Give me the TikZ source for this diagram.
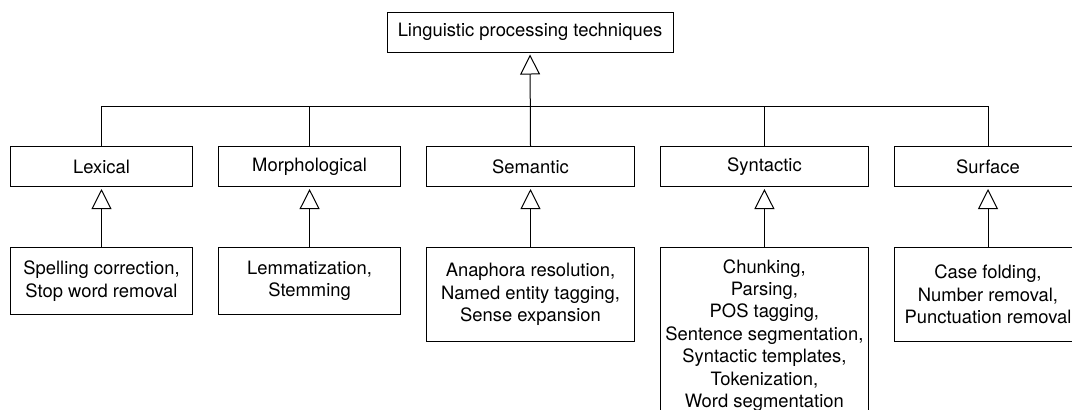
\documentclass[tikz,border=0pt]{standalone}
\usepackage{fontspec}
\setmainfont{TeX Gyre Heros}
\usetikzlibrary{
    arrows.meta,
    calc,
    positioning
}
\tikzset{tbox/.style={draw=black, inner sep=2pt, align=center, font=\fontsize{9.2}{11.2}\selectfont, minimum height=20pt},
         inh/.style={-{Triangle[open, length=10pt, width=10pt]}, shorten >=1pt}}

\begin{document}
\begin{tikzpicture}[x=0.5pt, y=-0.5pt, line width=0.5pt]
                        \useasboundingbox (0, 0) rectangle (1072, 409);
                        \node[tbox, minimum width=143pt] (root) at (530, 32) {Linguistic processing techniques};
                        % second row
                        \node[tbox, minimum width=91pt] (lex) at (101.5, 166.5) {Lexical};
                        \node[tbox, minimum width=91pt] (mor) at (309.6, 166.5) {Morphological};
                        \node[tbox, minimum width=104pt] (sem) at (530.5, 166.5) {Semantic};
                        \node[tbox, minimum width=104pt] (syn) at (764.4, 166.5) {Syntactic};
                        \node[tbox, minimum width=94pt] (sur) at (988, 166.5) {Surface};
                        % third row
                        \node[tbox, anchor=north, minimum width=91pt, minimum height=33.5pt] (dlex) at (101.5, 247) {Spelling correction,\\Stop word removal};
                        \node[tbox, anchor=north, minimum width=91pt, minimum height=33.5pt] (dmor) at (309.6, 247) {Lemmatization,\\Stemming};
                        \node[tbox, anchor=north, minimum width=104pt, minimum height=47pt] (dsem) at (530.5, 247) {Anaphora resolution,\\Named entity tagging,\\Sense expansion};
                        \node[tbox, anchor=north, minimum width=104pt, minimum height=88pt] (dsyn) at (764.4, 247) {Chunking,\\Parsing,\\POS tagging,\\Sentence segmentation,\\Syntactic templates,\\Tokenization,\\Word segmentation};
                        \node[tbox, anchor=north, minimum width=94pt, minimum height=47pt] (dsur) at (988, 247) {Case folding,\\Number removal,\\Punctuation removal};
                        \coordinate (bus) at (530, 106);
                        \draw[inh] (sem.north) -- (root.south);
                        \foreach \n in {lex, mor, syn, sur}
                            \draw (\n.north) |- (bus);
                        \foreach \n in {lex, mor, sem, syn, sur}
                            \draw[inh] (d\n.north) -- (\n.south);
                    \end{tikzpicture}
\end{document}
